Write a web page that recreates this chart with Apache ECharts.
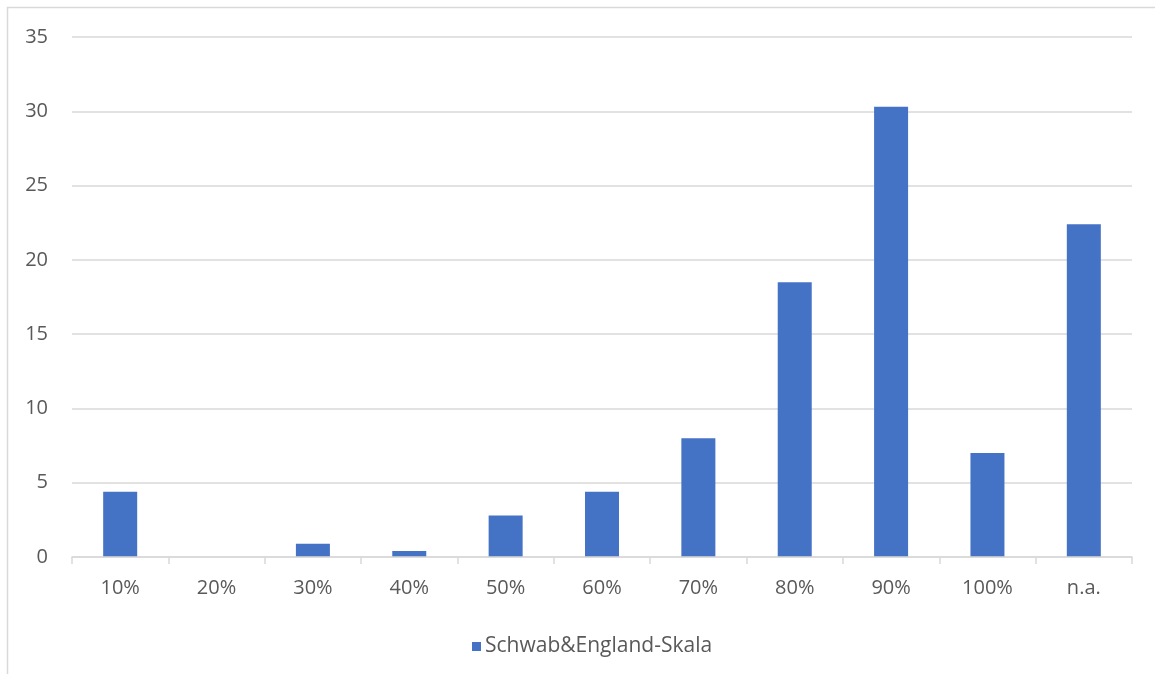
<!DOCTYPE html>
<html>
<head>
<meta charset="utf-8">
<script src="https://cdn.jsdelivr.net/npm/echarts@6/dist/echarts.min.js"></script>
<style>
  html, body { margin: 0; padding: 0; background: #fff; }
  #chart { width: 1155px; height: 674px; }
</style>
</head>
<body>
<div id="chart"></div>
<script>
// Share per rating step on the Schwab & England scale
const categories = ['10%', '20%', '30%', '40%', '50%', '60%', '70%', '80%', '90%', '100%', 'n.a.'];
const seriesName = 'Schwab&England-Skala';
const values = [4.4, 0, 0.9, 0.4, 2.8, 4.4, 8.0, 18.5, 30.3, 7.0, 22.4];
const yTicks = { min: 0, max: 35, interval: 5 };

const textColor = '#595959';
const lineColor = '#d9d9d9';
const fontFamily = '"Open Sans", "Noto Sans", sans-serif';

const chart = echarts.init(document.getElementById('chart'), null, { renderer: 'canvas' });

chart.setOption({
  backgroundColor: '#ffffff',
  animation: false,
  graphic: [
    {
      // chart-area frame (left and top edges)
      type: 'rect',
      shape: { x: 7.5, y: 7.5, width: 1200, height: 700 },
      style: { fill: null, stroke: lineColor, lineWidth: 1.5 },
      silent: true,
      z: -1
    }
  ],
  grid: { left: 72, right: 23, top: 37, bottom: 117, containLabel: false },
  legend: {
    left: 467,
    top: 631,
    icon: 'rect',
    itemWidth: 9,
    itemHeight: 9,
    itemGap: 10,
    textStyle: { color: textColor, fontSize: 21, fontFamily: fontFamily, padding: [0, 0, 0, -1] },
    data: [seriesName]
  },
  xAxis: {
    type: 'category',
    data: categories,
    boundaryGap: true,
    z: 3,
    axisLine: { show: true, lineStyle: { color: lineColor, width: 1.5 } },
    axisTick: { show: true, length: 7, alignWithLabel: false, lineStyle: { color: lineColor, width: 1.5 } },
    axisLabel: { color: textColor, fontSize: 20, fontFamily: fontFamily, margin: 21 },
    splitLine: { show: false }
  },
  yAxis: {
    type: 'value',
    min: yTicks.min,
    max: yTicks.max,
    interval: yTicks.interval,
    axisLine: { show: false },
    axisTick: { show: false },
    axisLabel: { color: textColor, fontSize: 20, fontFamily: fontFamily, margin: 24 },
    splitLine: { show: true, lineStyle: { color: lineColor, width: 1.5 } }
  },
  series: [
    {
      name: seriesName,
      type: 'bar',
      data: values,
      barWidth: 34,
      itemStyle: { color: '#4472c4' }
    }
  ]
});
</script>
</body>
</html>
